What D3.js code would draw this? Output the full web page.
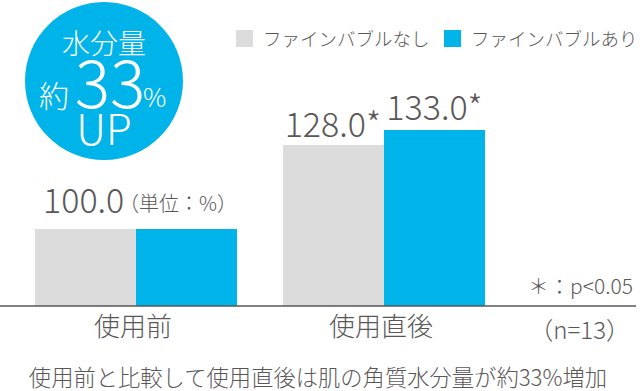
<!DOCTYPE html>
<html><head><meta charset="utf-8">
<script src="https://cdn.jsdelivr.net/npm/d3@7/dist/d3.min.js"></script>
<style>
html,body{margin:0;padding:0;background:#fff;}
svg{display:block;font-family:"Noto Sans CJK JP","Noto Sans",sans-serif;}
</style></head>
<body>
<svg id="chart" width="644" height="391"></svg>
<script>
const categories = ["使用前", "使用直後"];
const seriesNames = ["ファインバブルなし", "ファインバブルあり"];
const valuesWithout = [100.0, 128.0];
const valuesWith = [100.0, 133.0];
const valueLabelsWithout = ["100.0", "128.0*"];
const valueLabelsWith = ["", "133.0*"];
const unitLabel = "（単位：%）";
const noteP = "＊：p<0.05";
const noteN = "（n=13）";
const footnote = "使用前と比較して使用直後は肌の角質水分量が約33%増加";
const badgeLines = ["水分量", "約", "33", "%", "UP"];

const colors = ["#dcdcdc", "#00b4ea"];
const textColor = "#595757";

const svg = d3.select("#chart");
const baseY = 306;

const x0 = d3.scaleBand().domain(categories).range([35, 485]).paddingInner(46/248).paddingOuter(0);
const x1 = d3.scaleBand().domain(seriesNames).range([0, x0.bandwidth()]).padding(0);
const y = d3.scaleLinear().domain([74.33, 133]).range([baseY, 130]);

const data = categories.map((c, i) => ({cat: c, vals: [valuesWithout[i], valuesWith[i]]}));

// bars
const g = svg.append("g");
data.forEach(d => {
  d.vals.forEach((v, j) => {
    g.append("rect")
      .attr("x", x0(d.cat) + x1(seriesNames[j]))
      .attr("y", y(v))
      .attr("width", x1.bandwidth())
      .attr("height", baseY - y(v))
      .attr("fill", colors[j]);
  });
});

// category axis
const xAxis = d3.axisBottom(x0).tickSize(0).tickPadding(12);
const ax = svg.append("g").attr("transform", `translate(0,${baseY})`).call(xAxis);
ax.select(".domain").remove();
ax.selectAll("text").attr("font-size", 26).attr("fill", textColor)
  .attr("font-family", '"Noto Sans CJK JP",sans-serif').attr("font-weight", 300).attr("dx", -3);
svg.append("line").attr("x1", 0).attr("x2", 636).attr("y1", baseY).attr("y2", baseY)
  .attr("stroke", "#595757").attr("stroke-width", 1.6);

// value labels
const lbl = (txt, xx, yy, anchor, size) => svg.append("text").text(txt)
  .attr("x", xx).attr("y", yy).attr("text-anchor", anchor)
  .attr("font-size", size).attr("fill", textColor).attr("font-weight", 300);

lbl(valueLabelsWithout[0], x0(categories[0]) + 8, y(valuesWithout[0]) - 16, "start", 34);
lbl(unitLabel, x0(categories[0]) + 84, y(valuesWithout[0]) - 18, "start", 20);
lbl(valueLabelsWithout[1], x0(categories[1]) + x1.bandwidth() - 3, y(valuesWithout[1]) - 8, "end", 34);
lbl(valueLabelsWith[1], x0(categories[1]) + x1(seriesNames[1]) + x1.bandwidth() / 2, y(valuesWith[1]) - 10, "middle", 34);

// notes
lbl(noteP, 633, 294, "end", 21);
lbl(noteN, 630, 339, "end", 24);
lbl(footnote, 318, 386, "middle", 22.3);

// legend
const leg = svg.append("g");
const legX = [236, 444];
seriesNames.forEach((s, j) => {
  leg.append("rect").attr("x", legX[j]).attr("y", 30).attr("width", 17).attr("height", 17).attr("fill", colors[j]);
  leg.append("text").text(s).attr("x", legX[j] + 27).attr("y", 46)
    .attr("font-size", 18.5).attr("fill", textColor).attr("font-weight", 300);
});

// badge
const badge = svg.append("g");
badge.append("circle").attr("cx", 104).attr("cy", 81).attr("r", 79).attr("fill", colors[1]);
const bt = (txt, xx, yy, anchor, size) => badge.append("text").text(txt)
  .attr("x", xx).attr("y", yy).attr("text-anchor", anchor).attr("font-size", size)
  .attr("fill", "#fff").attr("font-weight", 300);
bt(badgeLines[0], 104, 54, "middle", 28);
bt(badgeLines[1], 39, 107, "start", 30);
bt(badgeLines[2], 110, 108, "middle", 66);
bt(badgeLines[3], 143, 107, "start", 26);
bt(badgeLines[4], 104, 145, "middle", 42);
</script>
</body></html>
